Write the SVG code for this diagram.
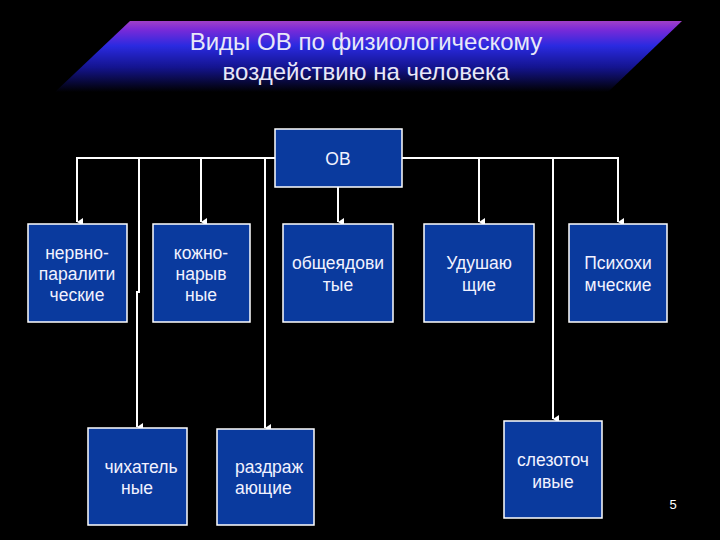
<svg xmlns="http://www.w3.org/2000/svg" width="720" height="540" viewBox="0 0 720 540">
<defs>
<linearGradient id="ban" x1="0" y1="0" x2="0" y2="1">
<stop offset="0" stop-color="#a040c8"/>
<stop offset="0.12" stop-color="#7a2ad8"/>
<stop offset="0.35" stop-color="#2a2ae0"/>
<stop offset="0.65" stop-color="#141490"/>
<stop offset="1" stop-color="#000000"/>
</linearGradient>
<marker id="arr" markerWidth="8" markerHeight="8" refX="4" refY="6" orient="auto" markerUnits="userSpaceOnUse" viewBox="0 0 8 8">
<path d="M0,0 L8,0 L4,6 Z" fill="#ffffff"/>
</marker>
<style>
.box{fill:#0a3a9e;stroke:#ffffff;stroke-width:1.5}
.t{font-family:"Liberation Sans",Arial,sans-serif;font-size:17.5px;fill:#f2f2ff;text-anchor:middle}
.tl{font-family:"Liberation Sans",Arial,sans-serif;font-size:17.5px;fill:#f2f2ff}
.title{font-family:"Liberation Sans",Arial,sans-serif;font-size:24px;fill:#e8e8f8;text-anchor:middle}
.c{fill:none;stroke:#ffffff;stroke-width:2}
</style>
</defs>
<rect width="720" height="540" fill="#000000"/>
<g id="title">
<polygon points="130,21 682,21 608,92 55,92" fill="url(#ban)"/>
<text class="title" x="366" y="50">Виды ОВ по физиологическому</text>
<text class="title" x="366" y="80">воздействию на человека</text>
</g>
<g id="connectors">
<polyline class="c" points="77,222 77,158 618,158 618,222" marker-end="url(#arr)"/>
<line class="c" x1="77" y1="158" x2="77" y2="222" marker-end="url(#arr)"/>
<polyline class="c" points="139,158 139,292 137,292 137,427" marker-end="url(#arr)"/>
<line class="c" x1="201" y1="158" x2="201" y2="222" marker-end="url(#arr)"/>
<line class="c" x1="265" y1="158" x2="265" y2="428" marker-end="url(#arr)"/>
<line class="c" x1="338" y1="187" x2="338" y2="222" marker-end="url(#arr)"/>
<line class="c" x1="479" y1="158" x2="479" y2="222" marker-end="url(#arr)"/>
<line class="c" x1="553" y1="158" x2="553" y2="419" marker-end="url(#arr)"/>
</g>
<g id="ov"><rect class="box" x="275" y="129" width="127" height="58"/><text class="t" x="338" y="165">ОВ</text></g>
<g id="nervno"><rect class="box" x="28" y="224" width="99" height="98"/><text class="t" x="77" y="259">нервно-</text><text class="t" x="77" y="280">паралити</text><text class="t" x="77" y="301">ческие</text></g>
<g id="kozhno"><rect class="box" x="153" y="224" width="97" height="98"/><text class="t" x="201" y="259">кожно-</text><text class="t" x="201" y="280">нарыв</text><text class="t" x="201" y="301">ные</text></g>
<g id="obshche"><rect class="box" x="283" y="224" width="110" height="98"/><text class="t" x="338" y="269">общеядови</text><text class="t" x="338" y="291">тые</text></g>
<g id="udush"><rect class="box" x="424" y="224" width="110" height="98"/><text class="t" x="479" y="269">Удушаю</text><text class="t" x="479" y="291">щие</text></g>
<g id="psikho"><rect class="box" x="569" y="224" width="98" height="98"/><text class="t" x="618" y="269">Психохи</text><text class="t" x="618" y="291">мческие</text></g>
<g id="chikh"><rect class="box" x="88" y="428" width="99" height="97"/><text class="t" x="141" y="473">чихатель</text><text class="t" x="137" y="494">ные</text></g>
<g id="razdr"><rect class="box" x="217" y="429" width="97" height="96"/><text class="tl" x="235" y="473">раздраж</text><text class="tl" x="235" y="494">ающие</text></g>
<g id="slezo"><rect class="box" x="504" y="421" width="98" height="97"/><text class="t" x="553" y="466">слезоточ</text><text class="t" x="553" y="488">ивые</text></g>
<text x="673" y="509" font-family="Liberation Sans, Arial, sans-serif" font-size="13" fill="#ffffff" text-anchor="middle">5</text>
</svg>
